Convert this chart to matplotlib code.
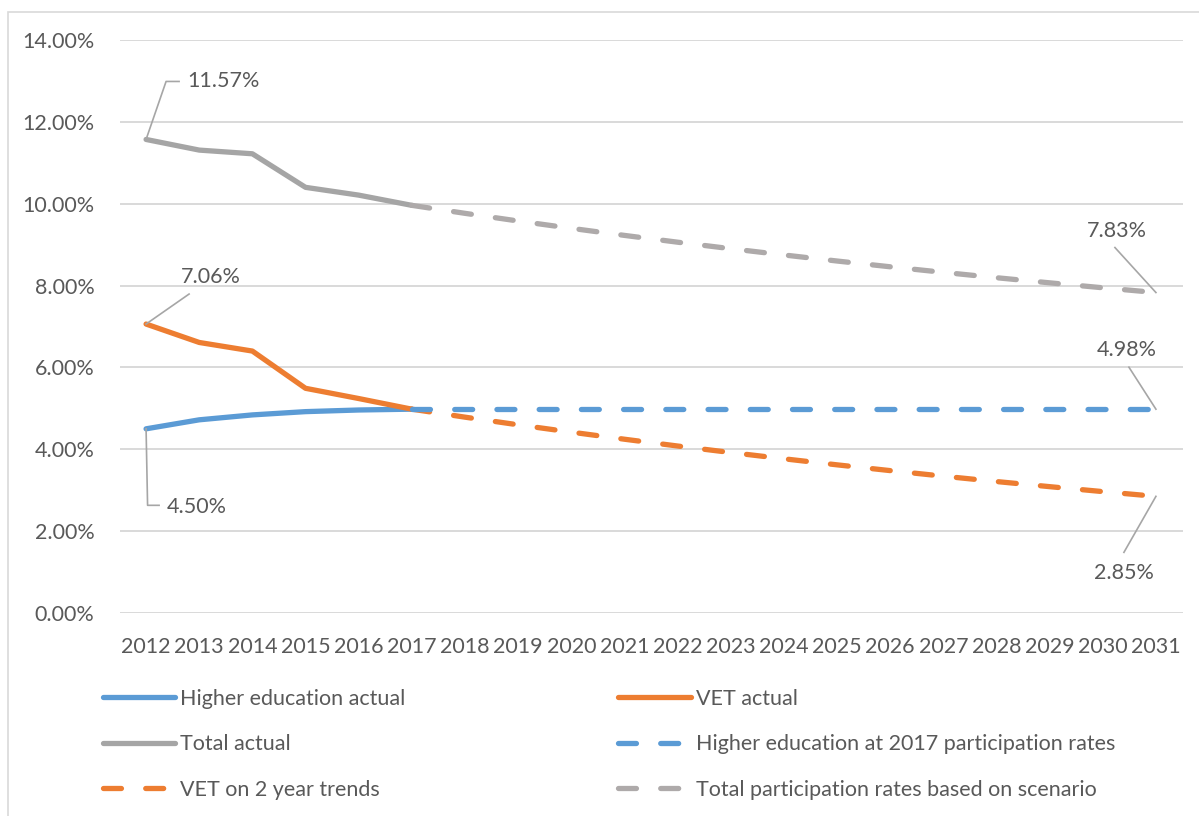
import matplotlib
matplotlib.use("Agg")
import matplotlib.pyplot as plt
from matplotlib.lines import Line2D
from matplotlib.patches import Rectangle
from matplotlib.ticker import FuncFormatter, MultipleLocator
import numpy as np

years = list(range(2012, 2032))
actual_years = list(range(2012, 2018))
proj_years = list(range(2017, 2032))

he_actual = [4.50, 4.72, 4.84, 4.92, 4.96, 4.98]
vet_actual = [7.06, 6.61, 6.40, 5.49, 5.24, 4.98]
total_actual = [11.57, 11.31, 11.22, 10.40, 10.21, 9.96]

he_proj = [4.98] * 15
vet_proj = [4.98, 4.785, 4.598, 4.419, 4.246, 4.080, 3.921, 3.768,
            3.620, 3.479, 3.343, 3.212, 3.087, 2.966, 2.85]
total_proj = [9.96, 9.765, 9.578, 9.399, 9.226, 9.060, 8.901, 8.748,
              8.600, 8.459, 8.323, 8.192, 8.067, 7.946, 7.83]

labels = ["Higher education actual", "VET actual", "Total actual",
          "Higher education at 2017 participation rates",
          "VET on 2 year trends", "Total participation rates based on scenario"]

BLUE = "#5B9BD5"
ORANGE = "#ED7D31"
GRAY = "#A5A5A5"
GRAY2 = "#AEAAAA"
TXT = "#595959"
GRID = "#D9D9D9"
FONT = "Lato"
FS = 15.5

plt.rcParams['font.family'] = [FONT, 'DejaVu Sans']

W, H = 1199, 816
fig = plt.figure(figsize=(W / 100, H / 100), dpi=100)
fig.patch.set_facecolor("white")

# chart border
fig.patches.append(Rectangle((8 / W, -0.1), 1.2, (H - 11.5) / H + 0.1,
                             transform=fig.transFigure, fill=False,
                             edgecolor=GRID, linewidth=1.2))

ax = fig.add_axes([119.5 / W, (H - 613) / H, 1063 / W, 573 / H])
ax.set_xlim(2011.5, 2031.5)
ax.set_ylim(0, 14)
ax.yaxis.set_major_locator(MultipleLocator(2))
ax.yaxis.set_major_formatter(FuncFormatter(lambda v, p: f"{v:.2f}%"))
ax.set_xticks(years)
ax.set_xticklabels([str(y) for y in years])
for s in ax.spines.values():
    s.set_visible(False)
ax.grid(axis="y", color=GRID, linewidth=1.4)
ax.set_axisbelow(True)
ax.tick_params(axis="both", length=0, colors=TXT, labelsize=FS)
ax.tick_params(axis="y", pad=18)
ax.tick_params(axis="x", pad=17)

lw = 3.8
dash = (3.4, 4.6)
solid_kw = dict(linewidth=lw, solid_capstyle="round", solid_joinstyle="round")
dash_kw = dict(linewidth=lw, dash_capstyle="round", dashes=dash)

h_he, = ax.plot(actual_years, he_actual, color=BLUE, **solid_kw)
h_vet, = ax.plot(actual_years, vet_actual, color=ORANGE, **solid_kw)
h_tot, = ax.plot(actual_years, total_actual, color=GRAY, **solid_kw)
h_tp, = ax.plot(proj_years, total_proj, color=GRAY2, **dash_kw)
h_vp, = ax.plot(proj_years, vet_proj, color=ORANGE, **dash_kw)
h_hp, = ax.plot(proj_years, he_proj, color=BLUE, **dash_kw)

# data labels with leader lines (pixel offsets from the data point)
LEAD = "#A6A6A6"
def label(x, y, text, verts, toff, ha="center"):
    px, py = ax.transData.transform((x, y))
    xs = [px + dx for dx, dy in verts]
    ys = [py + dy for dx, dy in verts]
    ln = Line2D(xs, ys, color=LEAD, linewidth=1.2, transform=None)
    fig.add_artist(ln)
    fig.text((px + toff[0]) / W, (py + toff[1]) / H, text, ha=ha, va="center",
             color=TXT, fontsize=FS)

label(2012, total_actual[0], f"{total_actual[0]:.2f}%",
      [(0, 0), (20, 58), (33, 58)], (41, 58), ha="left")
label(2012, vet_actual[0], f"{vet_actual[0]:.2f}%",
      [(0, 0), (43, 30)], (65, 47))
label(2012, he_actual[0], f"{he_actual[0]:.2f}%",
      [(0, 0), (1.5, -76.5), (13, -76.5)], (21, -78), ha="left")
label(2031, total_proj[-1], f"{total_proj[-1]:.2f}%",
      [(0, 0), (-41, 45)], (-39, 62))
label(2031, he_proj[-1], f"{he_proj[-1]:.2f}%",
      [(0, 0), (-27, 42)], (-29, 59))
label(2031, vet_proj[-1], f"{vet_proj[-1]:.2f}%",
      [(0, 0), (-32, -56)], (-32, -77))

handles = [h_he, h_tot, h_vp, h_vet, h_hp, h_tp]
labs = [labels[0], labels[2], labels[4], labels[1], labels[3], labels[5]]
leg = fig.legend(handles, labs, loc="upper left",
                 bbox_to_anchor=(103 / W, (H - 689) / H), ncol=2,
                 frameon=False, fontsize=FS, handlelength=3.35,
                 handletextpad=0.23, columnspacing=9.9, labelspacing=1.18,
                 borderaxespad=0, borderpad=0)
for t in leg.get_texts():
    t.set_color(TXT)

fig.savefig("out.png", dpi=100, facecolor="white")
